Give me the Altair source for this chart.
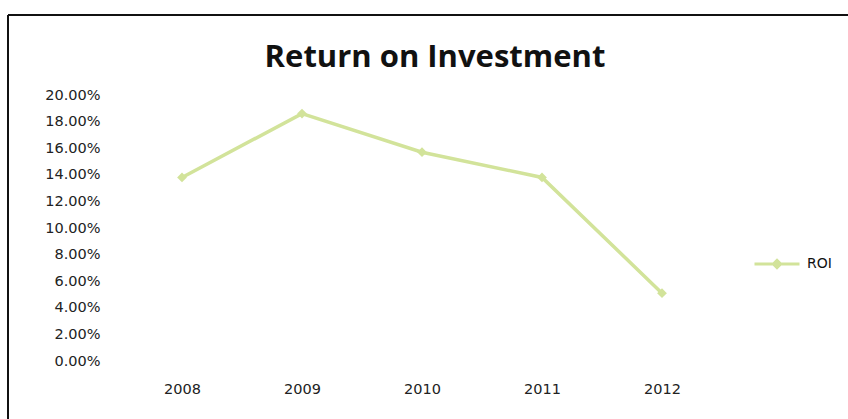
import altair as alt
import pandas as pd

# Return on investment by year
years = ["2008", "2009", "2010", "2011", "2012"]
roi = [0.138, 0.186, 0.157, 0.138, 0.051]
series = ["ROI"] * len(years)
y_ticks = [0.0, 0.02, 0.04, 0.06, 0.08, 0.10, 0.12, 0.14, 0.16, 0.18, 0.20]

LINE_GREEN = "#d2e39a"
TICK_FONT = "DejaVu Sans"

df = pd.DataFrame({"year": years, "roi": roi, "series": series})

line = (
    alt.Chart(df)
    .mark_line(
        strokeWidth=3.5,
        point=alt.OverlayMarkDef(shape="diamond", size=95, filled=True, color=LINE_GREEN),
    )
    .encode(
        x=alt.X(
            "year:O",
            scale=alt.Scale(type="point", padding=0.5),
            axis=alt.Axis(
                title=None,
                labelAngle=0,
                ticks=False,
                domain=False,
                grid=False,
                labelPadding=21,
                labelFont=TICK_FONT,
                labelFontSize=14.5,
                labelColor="#222222",
            ),
        ),
        y=alt.Y(
            "roi:Q",
            scale=alt.Scale(domain=[0, 0.2], nice=False),
            axis=alt.Axis(
                title=None,
                values=y_ticks,
                format=".2%",
                ticks=False,
                domain=False,
                grid=False,
                labelPadding=22,
                labelFont=TICK_FONT,
                labelFontSize=14.5,
                labelColor="#222222",
            ),
        ),
        color=alt.Color(
            "series:N",
            scale=alt.Scale(range=[LINE_GREEN]),
            legend=alt.Legend(
                title=None,
                orient="none",
                legendX=631,
                legendY=145,
                symbolType="M-1,0L1,0M-0.16,0L0,-0.16L0.16,0L0,0.16Z",
                symbolSize=2025,
                symbolStrokeWidth=3,
                symbolFillColor=LINE_GREEN,
                labelFont=TICK_FONT,
                labelFontSize=14,
                labelColor="#111111",
                labelOffset=6,
                padding=0,
            ),
        ),
    )
)

# Frame around the chart: left and top edges
frame_src = pd.DataFrame({"k": [0]})
left_edge = (
    alt.Chart(frame_src)
    .mark_rule(color="#111111", strokeWidth=2)
    .encode(x=alt.value(-114), y=alt.value(-80), y2=alt.value(340))
)
top_edge = (
    alt.Chart(frame_src)
    .mark_rule(color="#111111", strokeWidth=2)
    .encode(x=alt.value(-114), x2=alt.value(740), y=alt.value(-80))
)

chart = (
    alt.layer(line, left_edge, top_edge)
    .properties(
        width=600,
        height=266,
        background="white",
        title=alt.TitleParams(
            "Return on Investment",
            font="Open Sans",
            fontSize=31,
            fontWeight="bold",
            color="#111111",
            anchor="middle",
            frame="group",
            dx=13,
            dy=78,
            offset=18,
        ),
        autosize=alt.AutoSizeParams(type="none"),
        padding={"left": 122, "top": 95, "right": 126, "bottom": 58},
    )
    .configure_view(stroke=None)
)

chart.save("out.html", embed_options={"renderer": "svg", "actions": False})
